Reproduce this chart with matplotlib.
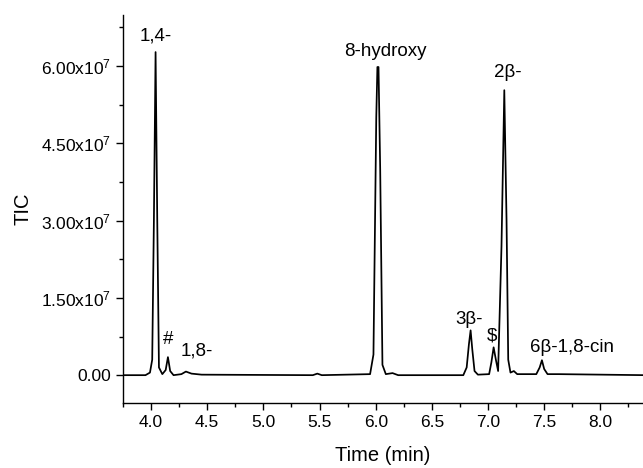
import numpy as np
import matplotlib.pyplot as plt
from matplotlib.ticker import FixedLocator, FixedFormatter, MultipleLocator

plt.rcParams['font.family'] = ['Liberation Sans', 'DejaVu Sans']
plt.rcParams['mathtext.fontset'] = 'custom'
plt.rcParams['mathtext.rm'] = 'Liberation Sans'
plt.rcParams['mathtext.it'] = 'Liberation Sans'

# chromatogram trace (time in min, TIC in units of 1e7)
time = [3.75, 3.95, 3.99, 4.01, 4.025, 4.04, 4.055, 4.07, 4.10, 4.13, 4.15, 4.17,
        4.20, 4.27, 4.31, 4.36, 4.45, 5.44, 5.48, 5.52, 5.95, 5.98, 6.005, 6.015,
        6.025, 6.04, 6.06, 6.09, 6.15, 6.20, 6.78, 6.81, 6.83, 6.845, 6.86, 6.88,
        6.91, 7.01, 7.03, 7.05, 7.07, 7.09, 7.12, 7.145, 7.165, 7.18, 7.20, 7.23,
        7.26, 7.43, 7.46, 7.48, 7.50, 7.53, 7.63, 8.40]
tic = [0.0, 0.0, 0.05, 0.3, 3.0, 6.27, 3.0, 0.15, 0.02, 0.1, 0.35, 0.08,
       0.0, 0.02, 0.07, 0.03, 0.01, 0.0, 0.03, 0.0, 0.02, 0.4, 5.0, 5.98,
       5.98, 4.0, 0.2, 0.02, 0.04, 0.0, 0.0, 0.15, 0.6, 0.87, 0.5, 0.08,
       0.01, 0.02, 0.25, 0.54, 0.3, 0.08, 2.5, 5.53, 3.0, 0.3, 0.05, 0.08,
       0.02, 0.02, 0.15, 0.29, 0.12, 0.02, 0.02, 0.0]

# peak labels: text, time, TIC (1e7) of the label anchor
labels = ['1,4-', '#', '1,8-', '8-hydroxy', '3\u03b2-', '$', '2\u03b2-', '6\u03b2-1,8-cin']
label_x = [4.04, 4.15, 4.41, 6.09, 6.83, 7.04, 7.18, 7.75]
label_y = [6.42, 0.52, 0.3, 6.12, 0.92, 0.6, 5.7, 0.38]

yticks = [0.0, 1.5e7, 3.0e7, 4.5e7, 6.0e7]
ytick_labels = ['0.00', '1.50x10$^{7}$', '3.00x10$^{7}$', '4.50x10$^{7}$', '6.00x10$^{7}$']

fig = plt.figure(figsize=(6.43, 4.68), dpi=100)
ax = fig.add_axes([0.1913, 0.1389, 0.8087, 0.8291])

ax.plot(time, np.array(tic) * 1e7, color='black', lw=1.25)

for t, x, y in zip(labels, label_x, label_y):
    ax.text(x, y * 1e7, t, ha='center', va='bottom', fontsize=13.5)

ax.set_xlim(3.75, 8.38)
ax.set_ylim(-0.54e7, 6.99e7)
ax.xaxis.set_major_locator(MultipleLocator(0.5))
ax.xaxis.set_minor_locator(MultipleLocator(0.25))
ax.yaxis.set_major_locator(FixedLocator(yticks))
ax.yaxis.set_major_formatter(FixedFormatter(ytick_labels))
ax.yaxis.set_minor_locator(MultipleLocator(0.75e7))

for s in ['top', 'right']:
    ax.spines[s].set_visible(False)
for s in ['left', 'bottom']:
    ax.spines[s].set_linewidth(1.0)

ax.tick_params(which='major', direction='out', length=5, width=1.0, labelsize=12.5)
ax.tick_params(which='minor', direction='out', length=3, width=1.0)

ax.set_xlabel('Time (min)', fontsize=14.5, labelpad=12)
ax.set_ylabel('TIC', fontsize=14.5, labelpad=6)

fig.savefig('out.png', dpi=100)
